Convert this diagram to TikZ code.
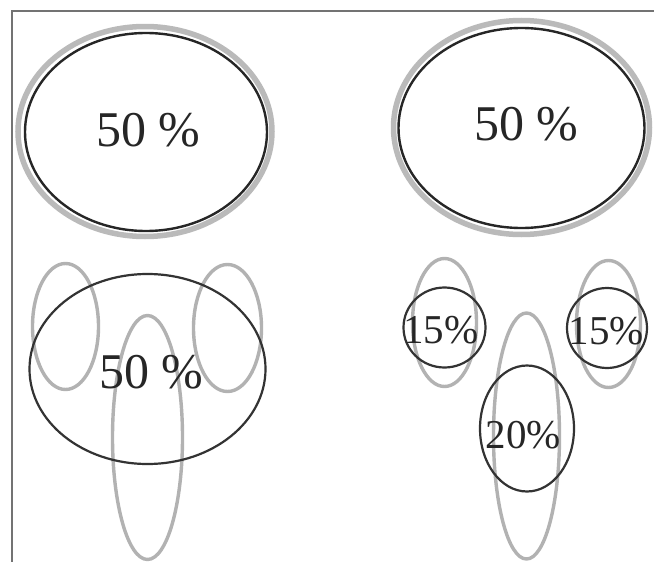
\documentclass[tikz,border=0pt]{standalone}
\usepackage{fontspec}
\setmainfont{Liberation Serif}
\begin{document}
\begin{tikzpicture}[x=1pt,y=-1pt,
  ring/.style={draw=black!27, line width=5.5pt},
  ringin/.style={draw=black!85, line width=2.4pt},
  grayell/.style={draw=black!30, line width=3.4pt},
  blackell/.style={draw=black!80, line width=2.2pt},
  bigtxt/.style={anchor=base, inner sep=0pt, text=black!85, font=\fontsize{50}{60}\selectfont},
  smalltxt/.style={anchor=base, inner sep=0pt, text=black!85, font=\fontsize{41}{48}\selectfont},
  frameline/.style={draw=black!55, line width=1.2pt}]
\useasboundingbox (0,0) rectangle (654,562);
\fill[white] (0,0) rectangle (654,562);
% frame
\draw[frameline] (12,562) -- (12,11) -- (654,11);
% top left
\draw[ring] (145,131.5) ellipse [x radius=127pt, y radius=105pt];
\draw[ringin] (146,132) ellipse [x radius=121pt, y radius=99pt];
\node[bigtxt] (t1) at (148.5,146) {50 \%};
% top right
\draw[ring] (521.5,127.5) ellipse [x radius=128pt, y radius=107pt];
\draw[ringin] (521.5,128) ellipse [x radius=123pt, y radius=100pt];
\node[bigtxt] (t2) at (526.5,140) {50 \%};
% bottom left
\draw[grayell] (65.5,326.5) ellipse [x radius=33pt, y radius=63pt];
\draw[grayell] (227.5,328) ellipse [x radius=34pt, y radius=63.5pt];
\draw[grayell] (147.5,437.5) ellipse [x radius=35pt, y radius=122pt];
\draw[blackell] (147.5,369) ellipse [x radius=118pt, y radius=95pt];
\node[bigtxt] (t3) at (151.5,388) {50 \%};
% bottom right
\draw[grayell] (444.5,322.5) ellipse [x radius=32pt, y radius=64pt];
\draw[grayell] (608.5,324) ellipse [x radius=32pt, y radius=63.5pt];
\draw[grayell] (526.5,436) ellipse [x radius=33pt, y radius=123pt];
\draw[blackell] (444.5,327.5) ellipse [x radius=41pt, y radius=40pt];
\draw[blackell] (607,328) ellipse [x radius=40pt, y radius=40pt];
\draw[blackell] (527,428.5) ellipse [x radius=47pt, y radius=63pt];
\node[smalltxt] (t4) at (441,343) {15\%};
\node[smalltxt] (t5) at (606.5,344) {15\%};
\node[smalltxt] (t6) at (523.5,448) {20\%};
\end{tikzpicture}
\end{document}
